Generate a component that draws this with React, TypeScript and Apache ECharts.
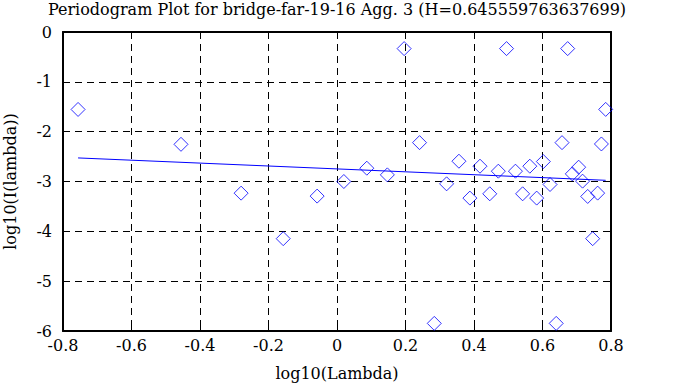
import React, { useEffect, useRef } from "react";
import * as echarts from "echarts";

const TITLE = "Periodogram Plot for bridge-far-19-16 Agg. 3 (H=0.645559763637699)";
const X_LABEL = "log10(Lambda)";
const Y_LABEL = "log10(I(lambda))";

const pointX = [
  -0.756, -0.4555, -0.28, -0.157, -0.058, 0.02, 0.087, 0.147, 0.196, 0.241, 0.284, 0.32,
  0.356, 0.388, 0.4175, 0.446, 0.471, 0.495, 0.521, 0.542, 0.563, 0.583, 0.6025, 0.622,
  0.64, 0.657, 0.6735, 0.687, 0.7056, 0.717, 0.732, 0.7465, 0.761, 0.772, 0.7845,
];
const pointY = [
  -1.554, -2.254, -3.234, -4.147, -3.293, -3.0, -2.733, -2.867, -0.333, -2.22, -5.847, -3.047,
  -2.593, -3.333, -2.693, -3.247, -2.793, -0.333, -2.793, -3.247, -2.693, -3.333, -2.6, -3.06,
  -5.847, -2.22, -0.333, -2.847, -2.713, -2.993, -3.3, -4.147, -3.233, -2.247, -1.553,
];
const fitX = [-0.756, 0.7845];
const fitY = [-2.527, -2.976];

const FONT = "DejaVu Serif";

export default function App() {
  const ref = useRef<HTMLDivElement>(null);
  useEffect(() => {
    if (!ref.current) return;
    const chart = echarts.init(ref.current, undefined, { renderer: "svg" });
    const axisLine = { show: true, onZero: false, lineStyle: { color: "#000", width: 2 } };
    const splitLine = { show: true, lineStyle: { color: "#000", width: 1, type: [7, 5] as any } };
    const tick = { show: true, inside: true, length: 6, lineStyle: { color: "#000", width: 1 } };
    chart.setOption({
      animation: false,
      backgroundColor: "#fff",
      title: {
        text: TITLE,
        left: "center",
        top: -4,
        textStyle: { fontFamily: FONT, fontSize: 16, fontWeight: "normal", color: "#000" },
      },
      grid: {
        left: 63,
        right: 63,
        top: 32,
        bottom: 56,
        containLabel: false,
        outerBoundsMode: "none",
      } as any,
      xAxis: [
        {
          type: "value",
          min: -0.8,
          max: 0.8,
          interval: 0.2,
          name: X_LABEL,
          nameLocation: "middle",
          nameGap: 34,
          nameTextStyle: { fontFamily: FONT, fontSize: 16, color: "#000" },
          axisLine,
          axisTick: tick,
          splitLine,
          axisLabel: {
            fontFamily: FONT,
            fontSize: 16,
            color: "#000",
            margin: 6,
            formatter: (v: number) => String(Math.round(v * 10) / 10),
          },
        },
        {
          type: "value",
          position: "top",
          min: -0.8,
          max: 0.8,
          interval: 0.2,
          axisLine,
          axisTick: tick,
          splitLine: { show: false },
          axisLabel: { show: false },
        },
      ],
      yAxis: [
        {
          type: "value",
          min: -6,
          max: 0,
          interval: 1,
          name: Y_LABEL,
          nameLocation: "middle",
          nameGap: 45,
          nameTextStyle: { fontFamily: FONT, fontSize: 16, color: "#000" },
          axisLine,
          axisTick: tick,
          splitLine,
          axisLabel: { fontFamily: FONT, fontSize: 16, color: "#000", margin: 11 },
        },
        {
          type: "value",
          position: "right",
          min: -6,
          max: 0,
          interval: 1,
          axisLine,
          axisTick: tick,
          splitLine: { show: false },
          axisLabel: { show: false },
        },
      ],
      series: [
        {
          type: "scatter",
          data: pointX.map((x, i) => [x, pointY[i]]),
          symbol: "diamond",
          symbolSize: 14,
          itemStyle: { color: "rgba(0,0,0,0)", borderColor: "#0000ff", borderWidth: 1 },
          z: 3,
        },
        {
          type: "line",
          data: fitX.map((x, i) => [x, fitY[i]]),
          symbol: "none",
          lineStyle: { color: "#0000ff", width: 1 },
          z: 4,
        },
      ],
    });
    return () => chart.dispose();
  }, []);
  return <div ref={ref} style={{ width: 674, height: 387, position: "absolute", left: 0, top: 0 }} />;
}
